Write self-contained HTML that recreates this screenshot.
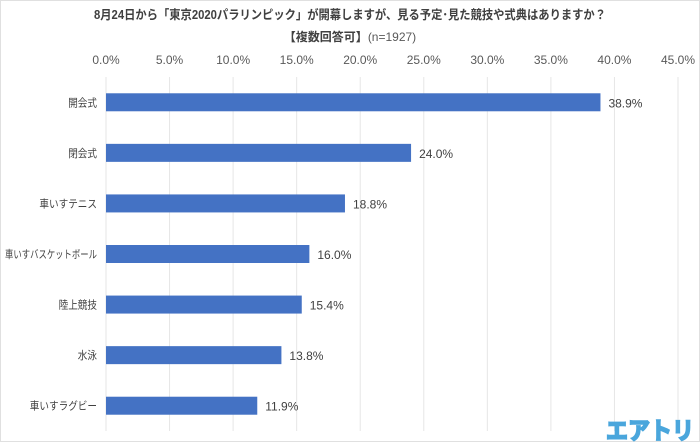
<!DOCTYPE html>
<html><head><meta charset="utf-8">
<style>
html,body{margin:0;padding:0;background:#fff;}
body{width:700px;height:443px;overflow:hidden;font-family:"Liberation Sans","Noto Sans CJK JP",sans-serif;}
svg text{font-family:"Liberation Sans","Noto Sans CJK JP",sans-serif;}
</style></head>
<body>
<svg id="chart" width="700" height="443" xmlns="http://www.w3.org/2000/svg">
<rect x="0.5" y="0.5" width="699" height="441" fill="#fff" stroke="#e0e0e0"/>
<text x="350" y="19" text-anchor="middle" font-size="12.5" font-weight="bold" fill="#404040" textLength="512" lengthAdjust="spacingAndGlyphs">8月24日から「東京2020パラリンピック」が開幕しますが、見る予定･見た競技や式典はありますか？</text>
<text x="350" y="41" text-anchor="middle" font-size="12" fill="#404040"><tspan font-weight="bold">【複数回答可】</tspan><tspan fill="#595959">(n=1927)</tspan></text>
<g id="grid"></g><g id="bars"></g>
<text x="694" y="439" text-anchor="end" font-size="24" font-weight="bold" fill="#4aa6dc" stroke="#4aa6dc" stroke-width="1.6" textLength="88" lengthAdjust="spacingAndGlyphs">エアトリ</text>
</svg>
<script>
const categories=["開会式","閉会式","車いすテニス","車いすバスケットボール","陸上競技","水泳","車いすラグビー"];
const values=[38.9,24.0,18.8,16.0,15.4,13.8,11.9];
const ticks=[0,5,10,15,20,25,30,35,40,45];
const NS="http://www.w3.org/2000/svg";
const x0=106,x1=678,xmax=45,yTop=77,yBot=431;
const xs=v=>x0+(v/xmax)*(x1-x0);
const band=(yBot-yTop)/categories.length;
const yc=i=>yTop+band*(i+0.5);
function mk(tag,attrs,parent,txt){const e=document.createElementNS(NS,tag);for(const k in attrs)e.setAttribute(k,attrs[k]);if(txt!==undefined)e.textContent=txt;parent.appendChild(e);return e;}
const grid=document.getElementById('grid'),bars=document.getElementById('bars');
ticks.forEach(t=>{
 const l=mk('line',{x1:xs(t),x2:xs(t),y1:yTop,y2:yBot,stroke:'#e6e6e6','stroke-width':1},grid);
 
 
 const tx=mk('text',{x:xs(t),y:64,'text-anchor':'middle','font-size':12,fill:'#595959'},grid,t.toFixed(1)+'%');
 
 
});
categories.forEach((c,i)=>{
 const y=yc(i);
 const r=mk('rect',{x:xs(0),y:y-9,width:xs(values[i])-xs(0),height:18,fill:'#4472c4'},bars);
 
 
 const lb=mk('text',{x:97,y:y+4,'text-anchor':'end','font-size':11,fill:'#404040'},bars,c);
 
 
 const w=c.length*9.6;
 if(w>92){lb.setAttribute('textLength',92);lb.setAttribute('lengthAdjust','spacingAndGlyphs');}
 else{lb.setAttribute('textLength',w);lb.setAttribute('lengthAdjust','spacingAndGlyphs');}
 const vl=mk('text',{x:xs(values[i])+8,y:y+5,'font-size':12,fill:'#404040'},bars,values[i].toFixed(1)+'%');
 
 
});
</script>
</body></html>
